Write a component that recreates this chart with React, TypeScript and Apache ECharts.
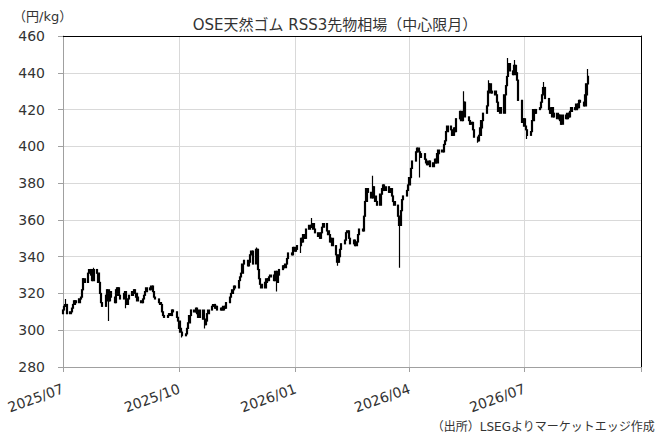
import React, { useEffect, useRef } from 'react';
import * as echarts from 'echarts';

// Daily closes (円/kg), one per weekday from 2025-07-01
const closes: number[] = [
  311, 313, 314, 309, 310, 312, 314, 316, 315, 317,
  318, 322, 328, 326, 331, 333, 330, 327, 333, 331,
  326, 320, 315, 313, 319, 322, 316, 321, 318, 315,
  322, 323, 319, 317, 320, 321, 314, 317, 319, 321,
  322, 320, 318, 316, 315, 317, 319, 321, 323, 322,
  324, 321, 318, 317, 315, 314, 310, 308, 307, 308,
  309, 308, 311, 310, 307, 305, 301, 299, 297, 298,
  301, 304, 308, 311, 310, 312, 309, 307, 311, 306,
  303, 305, 309, 311, 313, 314, 312, 313, 311, 312,
  311, 313, 312, 315, 318, 320, 322, 324, 323, 327,
  329, 331, 336, 338, 335, 337, 341, 343, 336, 344,
  333, 328, 325, 323, 326, 328, 327, 329, 330, 327,
  332, 326, 330, 333, 335, 334, 336, 339, 342, 341,
  345, 343, 344, 346, 350, 348, 352, 350, 355, 357,
  356, 358, 355, 353, 351, 350, 353, 356, 358, 354,
  352, 348, 350, 346, 341, 337, 340, 344, 347, 349,
  353, 354, 350, 347, 349, 346, 348, 352, 355, 354,
  362, 370, 377, 375, 372, 378, 373, 370, 368, 374,
  377, 379, 376, 378, 375, 377, 373, 370, 368, 362,
  357, 365, 371, 373, 376, 379, 383, 388, 392, 397,
  399, 397, 394, 396, 393, 391, 390, 392, 389, 391,
  393, 391, 396, 398, 397, 401, 403, 408, 411, 409,
  406, 410, 408, 415, 419, 414, 418, 424, 416, 414,
  412, 413, 409, 405, 403, 406, 410, 414, 418, 422,
  430, 434, 429, 430, 428, 424, 419, 421, 418, 428,
  433, 438, 445, 441, 439, 444, 440, 436, 425, 413,
  415, 411, 409, 406, 408, 414, 420, 418, 420, 421,
  424, 428, 432, 426, 420, 418, 421, 416, 418, 415,
  417, 414, 412, 417, 415, 418, 416, 419, 421, 420,
  423, 421, 425, 424, 422, 428, 434, 438,
];
const firstOpen = 309;

// Notable wicks: [day index, price]
const wickHighs: [number, number][] = [
  [2, 317], [18, 334], [109, 345], [141, 361], [175, 384], [227, 430], [241, 436],
  [252, 448], [255, 447], [272, 435], [297, 442],
];
const wickLows: [number, number][] = [
  [26, 305], [36, 312], [68, 296], [80, 301], [121, 321], [134, 342], [155, 335],
  [190, 334], [202, 383], [234, 402], [263, 404],
];

const yMin = 280;
const yMax = 460;
const yStep = 20;
const quarterTicks = ['2025-07-01', '2025-10-01', '2026-01-01', '2026-04-01', '2026-07-01', '2026-10-01'];

const titleText = 'OSE天然ゴム RSS3先物相場（中心限月）';
const unitText = '（円/kg）';
const sourceText = '（出所）LSEGよりマーケットエッジ作成';

function toTs(s: string): number {
  const [y, m, d] = s.split('-').map(Number);
  return new Date(y, m - 1, d).getTime();
}

function tradingDays(start: string, n: number): number[] {
  const out: number[] = [];
  const d = new Date(toTs(start));
  while (out.length < n) {
    const wd = d.getDay();
    if (wd !== 0 && wd !== 6) out.push(d.getTime());
    d.setDate(d.getDate() + 1);
  }
  return out;
}

const FONT = "'DejaVu Sans', 'Noto Sans CJK JP', sans-serif";

export default function App() {
  const ref = useRef<HTMLDivElement>(null);
  useEffect(() => {
    document.body.style.margin = '0';
    if (!ref.current) return;
    const chart = echarts.init(ref.current, undefined, { renderer: 'svg' });
    const dates = tradingDays(quarterTicks[0], closes.length);
    const hi = new Map(wickHighs);
    const lo = new Map(wickLows);
    const candles = closes.map((c, i) => {
      const o = i === 0 ? firstOpen : closes[i - 1];
      const h = Math.max(o, c, hi.get(i) ?? -Infinity);
      const l = Math.min(o, c, lo.get(i) ?? Infinity);
      return [dates[i], o, c, l, h];
    });
    const qTs = quarterTicks.map(toTs);
    const fmt = (v: number) => {
      const d = new Date(v);
      return d.getFullYear() + '/' + String(d.getMonth() + 1).padStart(2, '0');
    };
    chart.setOption({
      animation: false,
      backgroundColor: '#fff',
      textStyle: { fontFamily: FONT },
      title: {
        text: titleText,
        left: 'center',
        top: 12,
        textStyle: { fontFamily: FONT, fontSize: 15, fontWeight: 'normal', color: '#333' },
      },
      graphic: [
        {
          type: 'text',
          left: 13,
          top: 10,
          style: { text: unitText, fontFamily: FONT, fontSize: 13, fill: '#333' },
        },
        {
          type: 'text',
          right: 15,
          top: 421,
          style: { text: sourceText, fontFamily: FONT, fontSize: 12, fill: '#333' },
        },
      ],
      grid: { left: 63, right: 29, top: 36, bottom: 71 },
      xAxis: [
        {
          type: 'value',
          min: qTs[0],
          max: qTs[qTs.length - 1],
          axisLine: { show: true, onZero: false, lineStyle: { color: '#a0a0a0', width: 1 } },
          axisTick: { show: true, customValues: qTs, length: 5, lineStyle: { color: '#a0a0a0' } },
          axisLabel: {
            customValues: qTs.slice(0, -1),
            formatter: fmt,
            rotate: 20,
            margin: 21,
            fontSize: 14,
            color: '#333',
            fontFamily: FONT,
          },
          splitLine: { show: true, lineStyle: { color: '#d9d9d9', width: 1 } },
        },
        {
          type: 'value',
          position: 'top',
          min: qTs[0],
          max: qTs[qTs.length - 1],
          axisLine: { show: true, onZero: false, lineStyle: { color: '#000', width: 1 } },
          axisTick: { show: false },
          axisLabel: { show: false },
          splitLine: { show: false },
        },
      ],
      yAxis: [
        {
          type: 'value',
          min: yMin,
          max: yMax,
          interval: yStep,
          axisLine: { show: true, onZero: false, lineStyle: { color: '#a0a0a0', width: 1 } },
          axisTick: { show: true, length: 5, lineStyle: { color: '#a0a0a0' } },
          axisLabel: { fontSize: 14, color: '#333', margin: 18, fontFamily: FONT },
          splitLine: { show: true, lineStyle: { color: '#d9d9d9', width: 1 } },
        },
        {
          type: 'value',
          position: 'right',
          min: yMin,
          max: yMax,
          interval: yStep,
          axisLine: { show: true, onZero: false, lineStyle: { color: '#000', width: 1 } },
          axisTick: { show: false },
          axisLabel: { show: false },
          splitLine: { show: false },
        },
      ],
      series: [
        {
          type: 'candlestick',
          xAxisIndex: 0,
          yAxisIndex: 0,
          encode: { x: 0, y: [1, 2, 3, 4] },
          barWidth: 1.8,
          itemStyle: {
            color: '#000',
            color0: '#000',
            borderColor: '#000',
            borderColor0: '#000',
            borderWidth: 1.2,
          },
          data: candles,
        },
      ],
    });
    return () => chart.dispose();
  }, []);
  return <div ref={ref} style={{ width: 670, height: 438 }} />;
}
